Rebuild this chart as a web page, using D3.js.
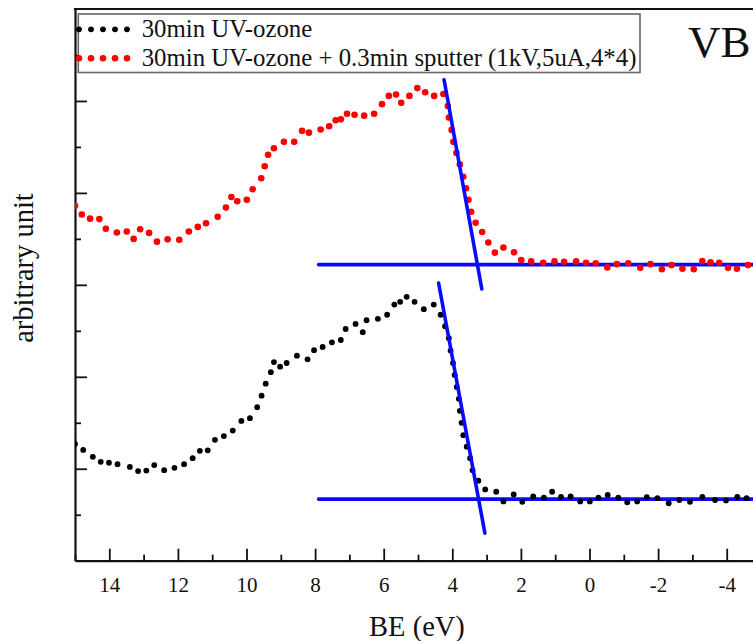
<!DOCTYPE html>
<html><head><meta charset="utf-8">
<script src="https://cdn.jsdelivr.net/npm/d3@7"></script>
<style>
html,body{margin:0;padding:0;background:#fff;}
svg{display:block;font-family:"Liberation Serif","Times New Roman",serif;}
</style></head>
<body><svg id="c" width="753" height="641"></svg>
<script>
// ---- data (BE in eV, intensity in arbitrary units) ----
const seriesNames = ["30min UV-ozone", "30min UV-ozone + 0.3min sputter (1kV,5uA,4*4)"];
const xMajorTicks = [14, 12, 10, 8, 6, 4, 2, 0, -2, -4];
const xMinorTicks = [15, 13, 11, 9, 7, 5, 3, 1, -1, -3];
const yMajorTicks = [2, 4, 6, 8, 10];
const yMinorTicks = [1, 3, 5, 7, 9, 11];

const redX = [15.00,14.80,14.56,14.29,14.10,13.78,13.49,13.29,13.10,12.84,12.61,12.30,11.96,11.68,11.42,11.18,10.84,10.60,10.44,10.27,9.99,9.82,9.57,9.47,9.37,9.20,8.91,8.61,8.38,8.18,7.84,7.59,7.40,7.25,7.07,6.85,6.57,6.28,6.05,5.85,5.64,5.49,5.25,5.02,4.79,4.53,4.26,4.13,4.10,4.02,3.97,3.88,3.78,3.68,3.60,3.53,3.45,3.32,3.13,2.95,2.76,2.51,2.20,1.99,1.70,1.35,1.02,0.74,0.39,0.10,-0.18,-0.52,-0.80,-1.13,-1.48,-1.78,-2.11,-2.39,-2.71,-3.04,-3.29,-3.53,-3.78,-4.04,-4.30,-4.62];
const redY = [7.72,7.53,7.44,7.43,7.22,7.14,7.16,7.00,7.21,7.13,6.94,6.99,6.98,7.16,7.26,7.34,7.48,7.68,7.91,7.82,7.85,8.08,8.32,8.58,8.83,8.97,9.11,9.11,9.35,9.31,9.38,9.45,9.58,9.60,9.72,9.70,9.68,9.72,9.93,10.11,10.14,9.96,10.11,10.28,10.19,10.11,10.15,9.89,9.64,9.37,9.11,8.87,8.62,8.35,8.10,7.85,7.59,7.35,7.15,6.92,6.70,6.81,6.71,6.54,6.51,6.48,6.51,6.50,6.51,6.48,6.47,6.38,6.45,6.47,6.37,6.45,6.34,6.43,6.35,6.34,6.52,6.49,6.48,6.37,6.35,6.43];

const blackX = [15.00,14.76,14.48,14.25,14.01,13.76,13.40,13.16,12.92,12.69,12.40,12.10,11.82,11.57,11.36,11.13,10.92,10.66,10.40,10.15,9.90,9.69,9.56,9.44,9.29,9.20,9.02,8.83,8.53,8.22,8.03,7.78,7.51,7.25,7.11,6.82,6.61,6.50,6.17,5.90,5.69,5.52,5.33,5.10,4.83,4.54,4.34,4.21,4.10,4.05,3.98,3.93,3.87,3.81,3.78,3.73,3.68,3.58,3.48,3.41,3.24,3.04,2.72,2.51,2.21,1.96,1.64,1.33,1.09,0.83,0.55,0.27,-0.01,-0.26,-0.53,-0.84,-1.10,-1.39,-1.67,-1.98,-2.31,-2.62,-2.93,-3.29,-3.66,-3.98,-4.31,-4.58];
const blackY = [2.54,2.41,2.26,2.15,2.13,2.10,2.04,1.95,1.96,2.08,1.97,2.02,2.10,2.23,2.39,2.40,2.63,2.71,2.83,3.04,3.10,3.34,3.59,3.85,4.10,4.32,4.22,4.30,4.46,4.38,4.58,4.65,4.75,4.80,5.04,5.15,4.97,5.23,5.26,5.35,5.57,5.63,5.74,5.63,5.47,5.57,5.35,5.10,4.84,4.57,4.30,4.04,3.78,3.52,3.26,3.00,2.73,2.48,2.23,1.97,1.74,1.55,1.50,1.29,1.44,1.28,1.40,1.37,1.50,1.39,1.40,1.29,1.29,1.37,1.43,1.37,1.27,1.29,1.38,1.36,1.25,1.32,1.28,1.39,1.32,1.31,1.39,1.36];

// linear-extrapolation guide lines (blue)
const redBaseX = [7.90, -5.0],  redBaseY = [6.44, 6.44];
const redEdgeX = [4.24, 3.14],  redEdgeY = [10.46, 5.91];
const blackBaseX = [7.90, -5.0], blackBaseY = [1.34, 1.34];
const blackEdgeX = [4.40, 3.05], blackEdgeY = [6.04, 0.60];

const colors = ["#000000", "#ff0000"];
const fitColor = "#0a0aff";

// ---- layout ----
const L = 75, R = 753, T = 9, B = 560.7;
const svg = d3.select("#c");
const x = d3.scaleLinear().domain([15, 15 - (R - L) / 34.3]).range([L, R]);
const y = d3.scaleLinear().domain([0, 12]).range([B, T]);

svg.append("defs").append("clipPath").attr("id", "clip")
  .append("rect").attr("x", L).attr("y", T).attr("width", R - L).attr("height", B - T);

// axes
const gx = svg.append("g").attr("transform", `translate(0,${B})`)
  .call(d3.axisBottom(x).tickValues(xMajorTicks).tickSize(-12).tickSizeOuter(0).tickPadding(16).tickFormat(d => String(d)));
const gxm = svg.append("g").attr("transform", `translate(0,${B})`)
  .call(d3.axisBottom(x).tickValues(xMinorTicks).tickSize(-6).tickSizeOuter(0).tickFormat(""));
gxm.select(".domain").remove();
gx.selectAll("text").attr("font-size", 21).attr("font-family", "Liberation Serif, serif").attr("fill", "#111");

const gy = svg.append("g").attr("transform", `translate(${L},0)`)
  .call(d3.axisLeft(y).tickValues(yMajorTicks).tickSize(-12).tickSizeOuter(0).tickFormat(""));
const gym = svg.append("g").attr("transform", `translate(${L},0)`)
  .call(d3.axisLeft(y).tickValues(yMinorTicks).tickSize(-6).tickSizeOuter(0).tickFormat(""));
gym.select(".domain").remove();
svg.selectAll(".domain").attr("stroke", "#111").attr("stroke-width", 2.2);
svg.selectAll(".tick line").attr("stroke", "#111").attr("stroke-width", 1.8);

// top frame line
svg.append("line").attr("x1", L - 1).attr("x2", R).attr("y1", T).attr("y2", T)
  .attr("stroke", "#111").attr("stroke-width", 2.2);

// axis titles
svg.append("text").attr("x", 417).attr("y", 636).attr("text-anchor", "middle")
  .attr("font-size", 28.5).attr("fill", "#111").text("BE (eV)");
svg.append("text").attr("transform", "translate(33,268) rotate(-90)").attr("text-anchor", "middle")
  .attr("font-size", 28.5).attr("fill", "#111").text("arbitrary unit");

// plot content
const plot = svg.append("g").attr("clip-path", "url(#clip)");
const line = d3.line().x(d => x(d[0])).y(d => y(d[1]));
function fit(xs, ys) {
  plot.append("path").datum(xs.map((v, i) => [v, ys[i]])).attr("d", line)
    .attr("fill", "none").attr("stroke", fitColor).attr("stroke-width", 3.6).attr("stroke-linecap", "round");
}
fit(redBaseX, redBaseY);
fit(blackBaseX, blackBaseY);

function dots(xs, ys, col, r) {
  plot.append("g").selectAll("circle").data(xs.map((v, i) => [v, ys[i]])).join("circle")
    .attr("cx", d => x(d[0])).attr("cy", d => y(d[1])).attr("r", r).attr("fill", col);
}
dots(redX, redY, colors[1], 3.3);
dots(blackX, blackY, colors[0], 2.9);
fit(redEdgeX, redEdgeY);
fit(blackEdgeX, blackEdgeY);

// legend
const lg = svg.append("g");
lg.append("rect").attr("x", 78.3).attr("y", 14).attr("width", 561.7).attr("height", 58.5)
  .attr("fill", "#fff").attr("stroke", "#666").attr("stroke-width", 1.6);
const legendRows = [29.3, 58.3];
const textBase = [36.7, 66.3];
seriesNames.forEach((name, i) => {
  for (let k = 0; k < 5; k++) {
    lg.append("circle").attr("cx", 79 + k * 12).attr("cy", legendRows[i])
      .attr("r", i === 0 ? 2.9 : 3.3).attr("fill", colors[i]);
  }
  lg.append("text").attr("x", 141.7).attr("y", textBase[i]).attr("font-size", 24.8)
    .attr("fill", "#111").text(name);
});

svg.append("text").attr("x", 688).attr("y", 56.7).attr("font-size", 45).attr("fill", "#111").text("VB");
</script></body></html>
